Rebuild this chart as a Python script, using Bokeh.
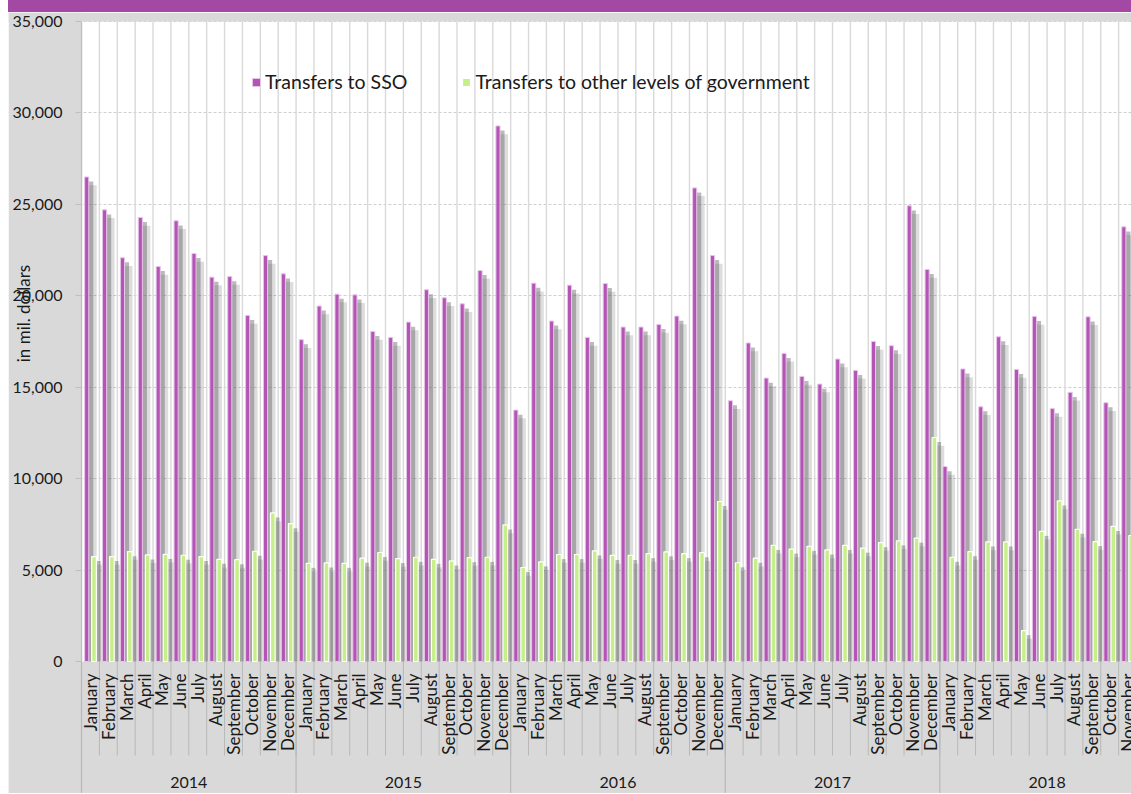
import numpy as np
from bokeh.plotting import figure
from bokeh.models import (Range1d, FixedTicker, NumeralTickFormatter, Legend, LegendItem,
                          Div, BoxAnnotation)
from bokeh.layouts import column
from bokeh.core.properties import value
from bokeh.embed import file_html
from bokeh.resources import INLINE

# ---------------- data (in mil. dollars) ----------------
years = ["2014", "2015", "2016", "2017", "2018"]
months = ["January", "February", "March", "April", "May", "June", "July",
          "August", "September", "October", "November", "December"]

sso_2014 = [26500, 24700, 22080, 24280, 21600, 24100, 22310, 21020, 21050, 18920, 22200, 21200]
sso_2015 = [17600, 19440, 20090, 20050, 18050, 17720, 18560, 20330, 19890, 19560, 21380, 29290]
sso_2016 = [13750, 20690, 18620, 20580, 17720, 20670, 18290, 18290, 18430, 18890, 25900, 22200]
sso_2017 = [14260, 17420, 15500, 16850, 15590, 15170, 16540, 15920, 17500, 17270, 24920, 21440]
sso_2018 = [10660, 16000, 13930, 17760, 15970, 18870, 13830, 14720, 18850, 14150, 23770]

gov_2014 = [5740, 5740, 6010, 5830, 5860, 5810, 5740, 5590, 5570, 6030, 8125, 7540]
gov_2015 = [5370, 5390, 5370, 5650, 5960, 5630, 5700, 5590, 5500, 5680, 5700, 7470]
gov_2016 = [5140, 5450, 5850, 5850, 6050, 5800, 5800, 5900, 6000, 5900, 5950, 8750]
gov_2017 = [5400, 5650, 6350, 6150, 6300, 6100, 6350, 6200, 6500, 6600, 6750, 12250]
gov_2018 = [5700, 6010, 6540, 6540, 1690, 7120, 8780, 7230, 6560, 7390, 6890]

y_ticks = [0, 5000, 10000, 15000, 20000, 25000, 30000, 35000]
y_title = "in mil. dollars"

sso = sso_2014 + sso_2015 + sso_2016 + sso_2017 + sso_2018
gov = gov_2014 + gov_2015 + gov_2016 + gov_2017 + gov_2018
n = len(sso)
idx = np.arange(n)
month_labels = [months[i % 12] for i in range(n)]
year_centers = np.arange(len(years)) * 12 + 6

PURPLE = "#b455b6"
GREEN = "#c6ef8a"
BG = "#d9d9d9"
FONT = value("Lato")

y_top = y_ticks[-1]
y_bottom = -7219
x_left = -4.083

p = figure(width=1123, height=781, margin=(0, 0, 0, 8),
           x_range=Range1d(x_left, 58.72), y_range=Range1d(y_bottom, 35492),
           output_backend="svg", toolbar_location=None, x_axis_location=None,
           min_border_left=0, min_border_right=0, min_border_top=0, min_border_bottom=0,
           background_fill_color="white", border_fill_color=BG, outline_line_color=None)

# grid lines
p.xgrid.visible = False
p.ygrid.grid_line_color = "#cfcfcf"
p.ygrid.grid_line_dash = "3 2"
p.ygrid.grid_line_width = 1

# grey areas: left of the value axis, above the top and below zero (label area)
p.add_layout(BoxAnnotation(right=0, fill_color=BG, fill_alpha=1, line_color=None, level="underlay"))
p.add_layout(BoxAnnotation(bottom=y_top, fill_color=BG, fill_alpha=1, line_color=None, level="underlay"))
p.add_layout(BoxAnnotation(top=0, fill_color=BG, fill_alpha=1, line_color=None, level="underlay"))

bnd = np.arange(n + 2)
p.segment(x0=bnd, y0=0, x1=bnd, y1=y_top, line_color="#d9d9d9", line_width=1.4)
p.segment(x0=bnd, y0=0, x1=bnd, y1=-5140, line_color="#b8b8b8", line_width=1)
ybnd = np.arange(len(years) + 1) * 12
p.segment(x0=ybnd, y0=0, x1=ybnd, y1=y_bottom, line_color="#b8b8b8", line_width=1.2)
p.segment(x0=0, y0=0, x1=0, y1=y_top, line_color="#bfbfbf", line_width=1.2)

# shadows
sso_arr = np.array(sso)
gov_arr = np.array(gov)
p.vbar(x=idx + 0.60, top=sso_arr - 450, bottom=0, width=0.50, fill_color="#666666", fill_alpha=0.22, line_color=None)
p.vbar(x=idx + 0.49, top=sso_arr - 250, bottom=0, width=0.34, fill_color="#666666", fill_alpha=0.45, line_color=None)
p.vbar(x=idx + 1.00, top=gov_arr - 450, bottom=0, width=0.50, fill_color="#666666", fill_alpha=0.22, line_color=None)
p.vbar(x=idx + 0.90, top=gov_arr - 250, bottom=0, width=0.34, fill_color="#666666", fill_alpha=0.45, line_color=None)

# bars
r_sso = p.vbar(x=idx + 0.29, top=sso, bottom=0, width=0.23, fill_color=PURPLE,
               line_color="#e6c6e8", line_width=1)
r_gov = p.vbar(x=idx + 0.70, top=gov, bottom=0, width=0.26, fill_color=GREEN,
               line_color="white", line_width=1.2)

# month and year labels
p.text(x=idx + 0.5, y=-656, text=month_labels, angle=np.pi / 2, text_align="right",
       text_baseline="middle", text_font=FONT, text_font_size="17px", text_color="#1a1a1a")
p.text(x=year_centers, y=-6620, text=years, text_align="center", text_baseline="middle",
       text_font=FONT, text_font_size="16px", text_color="#1a1a1a")

# value axis at x = 0 (inside the frame, the grey strip on the left holds its labels)
ax = p.yaxis[0]
ax.fixed_location = 0
ax.ticker = FixedTicker(ticks=y_ticks)
ax.formatter = NumeralTickFormatter(format="0,0")
ax.major_label_text_font = "Lato"
ax.major_label_text_font_size = "16px"
ax.major_label_text_color = "#1a1a1a"
ax.major_tick_out = 6
ax.major_tick_in = 0
ax.major_tick_line_color = "#bfbfbf"
ax.minor_tick_line_color = None
ax.axis_line_color = None
ax.major_label_standoff = 13
p.ygrid.ticker = FixedTicker(ticks=y_ticks[1:])

# axis title, overlapping the tick labels like the original
p.text(x=[-3.24], y=[19030], text=[y_title], angle=np.pi / 2, text_align="center",
       text_baseline="middle", text_font=FONT, text_font_size="17px", text_color="#1a1a1a")

legend = Legend(items=[LegendItem(label="Transfers to SSO", renderers=[r_sso]),
                       LegendItem(label="Transfers to other levels of government", renderers=[r_gov])],
                location=(243, 700), orientation="horizontal", background_fill_alpha=0,
                border_line_color=None, label_text_font="Lato", label_text_font_size="19.5px",
                label_text_color="#1a1a1a", glyph_width=10, glyph_height=10, label_standoff=4,
                spacing=54, padding=0, margin=0)
p.add_layout(legend)

band = Div(width=1123, height=12, margin=(0, 0, 0, 8), styles={"background-color": "#a349a4"})
layout = column(band, p, spacing=0)

open("out.html", "w").write(file_html(layout, INLINE))
